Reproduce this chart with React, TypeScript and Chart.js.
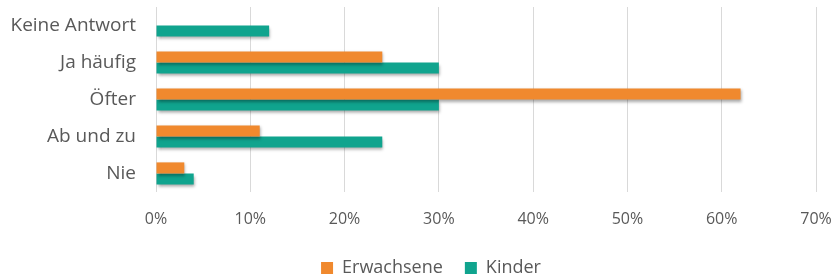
import React, { useEffect, useRef } from "react";
import { Chart, registerables } from "chart.js";

Chart.register(...registerables);

const categories = ["Keine Antwort", "Ja häufig", "Öfter", "Ab und zu", "Nie"];
const erwachsene = [0, 24, 62, 11, 3];
const kinder = [12, 30, 30, 24, 4];
const xTicks = [0, 10, 20, 30, 40, 50, 60, 70];

const FONT = "'Open Sans', 'DejaVu Sans', sans-serif";
const TEXT = "#595959";

const shadowPlugin = {
  id: "barShadow",
  beforeDatasetsDraw(chart: any) {
    const ctx = chart.ctx;
    ctx.save();
    ctx.shadowColor = "rgba(0,0,0,0.35)";
    ctx.shadowBlur = 3;
    ctx.shadowOffsetX = 1;
    ctx.shadowOffsetY = 2;
  },
  afterDatasetsDraw(chart: any) {
    chart.ctx.restore();
  },
};

// nudges the legend block to where the reference places it
const legendShift = {
  id: "legendShift",
  afterLayout(chart: any) {
    const lg = chart.legend;
    if (!lg) return;
    lg.top -= 19;
    lg.left += 23;
    lg.right += 23;
  },
};

export default function App() {
  const ref = useRef<HTMLCanvasElement | null>(null);
  useEffect(() => {
    if (!ref.current) return;
    const chart = new Chart(ref.current, {
      type: "bar",
      data: {
        labels: categories,
        datasets: [
          {
            label: "Erwachsene",
            data: erwachsene,
            backgroundColor: "#F0892E",
            barPercentage: 1,
            categoryPercentage: 0.6,
          },
          {
            label: "Kinder",
            data: kinder,
            backgroundColor: "#10A48E",
            barPercentage: 1,
            categoryPercentage: 0.6,
          },
        ],
      },
      options: {
        indexAxis: "y",
        animation: false,
        responsive: true,
        maintainAspectRatio: false,
        layout: { padding: { top: 7, left: 0, right: 21, bottom: 0 } },
        plugins: {
          legend: {
            position: "bottom",
            maxHeight: 24,
            labels: {
              boxWidth: 12,
              boxHeight: 12,
              color: TEXT,
              font: { family: FONT, size: 18 },
              padding: 22,
            },
          },
          tooltip: { enabled: false },
        },
        scales: {
          x: {
            min: 0,
            max: 70,
            afterBuildTicks(scale: any) {
              scale.ticks = xTicks.map((v) => ({ value: v }));
            },
            afterFit(scale: any) {
              scale.height = 64;
              scale.paddingLeft = 0;
              scale.paddingRight = 0;
            },
            grid: { color: "#D9D9D9", drawTicks: false },
            border: { display: false },
            ticks: {
              color: TEXT,
              font: { family: FONT, size: 16 },
              padding: 18,
              callback: (v: any) => v + "%",
            },
          },
          y: {
            grid: { display: false, drawTicks: false },
            border: { display: false },
            afterFit(scale: any) {
              scale.width = 156;
              scale.paddingTop = 0;
              scale.paddingBottom = 0;
            },
            ticks: {
              color: TEXT,
              font: { family: FONT, size: 19 },
              padding: 20,
            },
          },
        },
      },
      plugins: [shadowPlugin, legendShift],
    } as any);
    return () => chart.destroy();
  }, []);
  return (
    <div style={{ position: "absolute", left: 0, top: 0, width: 837, height: 280 }}>
      <canvas ref={ref} />
    </div>
  );
}
